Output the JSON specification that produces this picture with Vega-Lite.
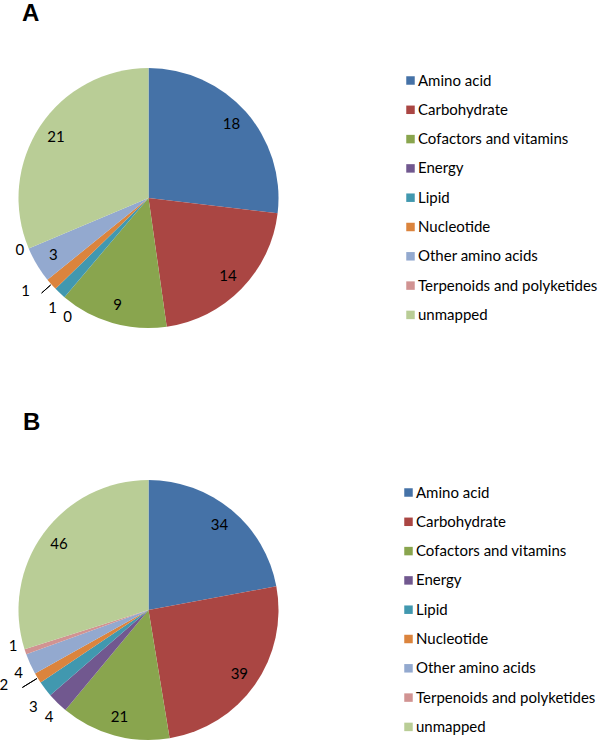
{
  "$schema": "https://vega.github.io/schema/vega-lite/v6.json",
  "padding": {"left": 0, "top": 2, "right": 0, "bottom": 0},
  "bounds": "flush",
  "spacing": 151,
  "background": "white",
  "config": {
    "view": {"stroke": null},
    "font": "Lato",
    "text": {"fontSize": 15, "color": "#000", "align": "center", "baseline": "middle"},
    "title": {"font": "Liberation Sans", "fontSize": 24, "fontWeight": "bold", "anchor": "start", "frame": "group", "color": "#000"},
    "legend": {"symbolType": "square", "symbolSize": 72, "symbolStrokeWidth": 0, "labelFont": "Lato", "labelFontSize": 15, "labelColor": "#000", "rowPadding": 13.3, "padding": 0, "labelOffset": 0, "labelLimit": 200, "symbolOffset": 0}
  },
  "datasets": {
    "a": [
      {"category": "Amino acid", "value": 18},
      {"category": "Carbohydrate", "value": 14},
      {"category": "Cofactors and vitamins", "value": 9},
      {"category": "Energy", "value": 0},
      {"category": "Lipid", "value": 1},
      {"category": "Nucleotide", "value": 1},
      {"category": "Other amino acids", "value": 3},
      {"category": "Terpenoids and polyketides", "value": 0},
      {"category": "unmapped", "value": 21}
    ],
    "b": [
      {"category": "Amino acid", "value": 34},
      {"category": "Carbohydrate", "value": 39},
      {"category": "Cofactors and vitamins", "value": 21},
      {"category": "Energy", "value": 4},
      {"category": "Lipid", "value": 3},
      {"category": "Nucleotide", "value": 2},
      {"category": "Other amino acids", "value": 4},
      {"category": "Terpenoids and polyketides", "value": 1},
      {"category": "unmapped", "value": 46}
    ]
  },
  "resolve": {"scale": {"color": "independent", "theta": "independent"}, "legend": {"color": "independent"}},
  "vconcat": [
    {
      "title": {"text": "A", "dx": 22, "offset": 41},
      "width": 297,
      "height": 262,
      "data": {"name": "a"},
      "encoding": {
        "theta": {"field": "value", "type": "quantitative", "stack": true},
        "order": {"field": "category", "type": "ordinal", "sort": "ascending"}
      },
      "layer": [
        {
          "mark": {"type": "arc", "radius": 130},
          "encoding": {
            "color": {
              "field": "category", "type": "nominal",
              "scale": {
                "domain": ["Amino acid", "Carbohydrate", "Cofactors and vitamins", "Energy", "Lipid", "Nucleotide", "Other amino acids", "Terpenoids and polyketides", "unmapped"],
                "range": ["#4572A7", "#AA4643", "#89A54E", "#71588F", "#4198AF", "#DB843D", "#93A9CF", "#D19392", "#B9CD96"]
              },
              "legend": {"orient": "none", "legendX": 403, "legendY": 6, "title": null}
            }
          }
        },
        {
          "mark": {"type": "arc", "radius": 143, "radius2": 131, "padAngle": 3, "filled": false, "stroke": "#000", "strokeWidth": 1},
          "encoding": {"strokeOpacity": {"condition": {"test": "datum.category == 'Nucleotide'", "value": 1}, "value": 0}}
        },
        {
          "mark": {"type": "text", "radius": 111, "clip": true},
          "encoding": {"text": {"condition": {"test": "datum.value >= 3", "field": "value", "type": "quantitative"}, "value": ""}}
        },
        {
          "mark": {"type": "text", "radius": 145, "dx": 3, "dy": 4, "clip": true},
          "encoding": {"text": {"condition": {"test": "datum.category == 'Lipid'", "field": "value", "type": "quantitative"}, "value": ""}}
        },
        {
          "mark": {"type": "text", "radius": 145, "dx": 5, "dy": -4, "clip": true},
          "encoding": {"text": {"condition": {"test": "datum.category == 'Terpenoids and polyketides'", "field": "value", "type": "quantitative"}, "value": ""}}
        },
        {
          "mark": {"type": "text", "radius": 145, "dx": 13, "dy": 8, "clip": true},
          "encoding": {"text": {"condition": {"test": "datum.category == 'Energy'", "field": "value", "type": "quantitative"}, "value": ""}}
        },
        {
          "mark": {"type": "text", "radius": 155, "dx": -7, "dy": -10, "clip": true},
          "encoding": {"text": {"condition": {"test": "datum.category == 'Nucleotide'", "field": "value", "type": "quantitative"}, "value": ""}}
        }
      ]
    },
    {
      "title": {"text": "B", "dx": 23, "offset": 45},
      "width": 297,
      "height": 260,
      "data": {"name": "b"},
      "encoding": {
        "theta": {"field": "value", "type": "quantitative", "stack": true},
        "order": {"field": "category", "type": "ordinal", "sort": "ascending"}
      },
      "layer": [
        {
          "mark": {"type": "arc", "radius": 130},
          "encoding": {
            "color": {
              "field": "category", "type": "nominal",
              "scale": {
                "domain": ["Amino acid", "Carbohydrate", "Cofactors and vitamins", "Energy", "Lipid", "Nucleotide", "Other amino acids", "Terpenoids and polyketides", "unmapped"],
                "range": ["#4572A7", "#AA4643", "#89A54E", "#71588F", "#4198AF", "#DB843D", "#93A9CF", "#D19392", "#B9CD96"]
              },
              "legend": {"orient": "none", "legendX": 401, "legendY": 5, "title": null}
            }
          }
        },
        {
          "mark": {"type": "arc", "radius": 148, "radius2": 131, "padAngle": 3, "filled": false, "stroke": "#000", "strokeWidth": 1},
          "encoding": {"strokeOpacity": {"condition": {"test": "datum.category == 'Nucleotide'", "value": 1}, "value": 0}}
        },
        {
          "mark": {"type": "text", "radius": 111, "clip": true},
          "encoding": {"text": {"condition": {"test": "datum.value >= 5", "field": "value", "type": "quantitative"}, "value": ""}}
        },
        {
          "mark": {"type": "text", "radius": 145, "dx": 2, "dy": 3, "clip": true},
          "encoding": {"text": {"condition": {"test": "datum.category == 'Energy' || datum.category == 'Other amino acids'", "field": "value", "type": "quantitative"}, "value": ""}}
        },
        {
          "mark": {"type": "text", "radius": 145, "dy": 9, "clip": true},
          "encoding": {"text": {"condition": {"test": "datum.category == 'Lipid'", "field": "value", "type": "quantitative"}, "value": ""}}
        },
        {
          "mark": {"type": "text", "radius": 145, "dx": 2, "dy": -10, "clip": true},
          "encoding": {"text": {"condition": {"test": "datum.category == 'Terpenoids and polyketides'", "field": "value", "type": "quantitative"}, "value": ""}}
        },
        {
          "mark": {"type": "text", "radius": 165, "dx": -4, "dy": -11, "clip": true},
          "encoding": {"text": {"condition": {"test": "datum.category == 'Nucleotide'", "field": "value", "type": "quantitative"}, "value": ""}}
        }
      ]
    }
  ]
}
